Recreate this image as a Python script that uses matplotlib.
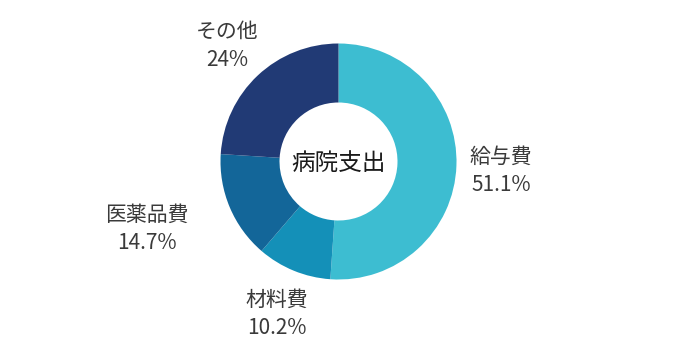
import matplotlib
import matplotlib.pyplot as plt

matplotlib.use('Agg')
plt.rcParams['font.family'] = ['Noto Sans CJK JP', 'DejaVu Sans']

# data (clockwise from 12 o'clock)
categories = ['給与費', '材料費', '医薬品費', 'その他']
shares = [51.1, 10.2, 14.7, 24.0]
share_labels = ['51.1%', '10.2%', '14.7%', '24%']
colors = ['#3dbdd1', '#1490b8', '#136699', '#213a75']
center_title = '病院支出'

# label anchor positions in pixels (x, y from top)
label_pos = [(501, 170), (277, 313), (147, 228), (227, 45)]

fig = plt.figure(figsize=(6.8, 3.46), dpi=100)
ax = fig.add_axes([0, 0, 1, 1])

cx, cy, r = 338.5, 346 - 161.5, 118
ax.pie(shares, colors=colors, startangle=90, counterclock=False,
       center=(cx, cy), radius=r, frame=True,
       wedgeprops=dict(width=r * 0.5, linewidth=0))
ax.set_xlim(0, 680)
ax.set_ylim(0, 346)
ax.axis('off')

ax.text(cx, cy - 2, center_title, ha='center', va='center',
        fontsize=17, color='#1a1a1a')

for name, lab, (x, y) in zip(categories, share_labels, label_pos):
    ax.text(x, 346 - y + 13, name, ha='center', va='center',
            fontsize=15, color='#3a3a3a')
    ax.text(x, 346 - y - 15, lab, ha='center', va='center',
            fontsize=15, color='#3a3a3a')

fig.savefig('out.png', dpi=100)
